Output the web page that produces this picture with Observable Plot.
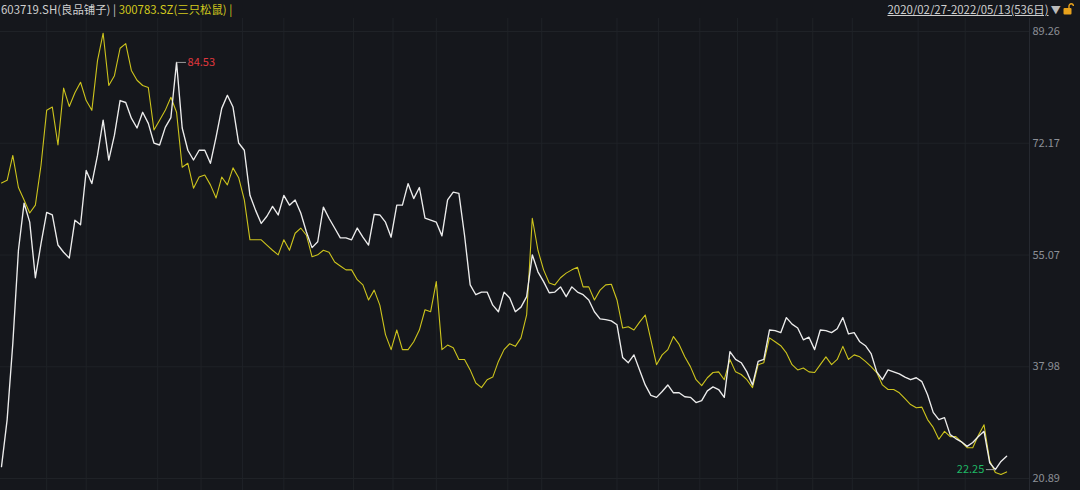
<!DOCTYPE html>
<html>
<head>
<meta charset="utf-8">
<script src="https://cdn.jsdelivr.net/npm/d3@7"></script>
<script src="https://cdn.jsdelivr.net/npm/@observablehq/plot@0.6"></script>
<style>
  body { margin: 0; background: #15171c; width: 1080px; height: 490px; overflow: hidden;
         font-family: "Noto Sans CJK SC", "Noto Sans", sans-serif; }
  #head { height: 18px; position: relative; font-size: 11.4px; line-height: 18px; white-space: nowrap; }
  #head .l { position: absolute; left: 1px; top: 0; }
  #head .r { position: absolute; right: 6px; top: 0; color: #cfcfcf; }
  #head .r u { text-decoration: underline; }
</style>
</head>
<body>
<div id="head">
  <span class="l"><span style="color:#cfcfcf">603719.SH(良品铺子)</span><span style="color:#cfcfcf"> | </span><span style="color:#d2c91c">300783.SZ(三只松鼠) |</span></span>
  <span class="r"><u>2020/02/27-2022/05/13(536日)</u><span style="color:#bbb;font-size:10px"> ▼ </span><svg width="11" height="12" viewBox="0 0 11 12" style="vertical-align:-1px"><path d="M6 5V3a2.2 2.2 0 0 1 4.4 0" fill="none" stroke="#e8a21c" stroke-width="1.4"/><rect x="0.5" y="5" width="8" height="6.5" rx="1" fill="#e8a21c"/></svg></span>
</div>
<div id="chart"></div>
<script>
// one value every 3 trading days, 2020/02/27 - 2022/05/13
const step = 3;
const white = [ // 603719.SH 良品铺子
  22.7, 29.9, 41.5, 55.8, 63.0, 60.1, 51.6, 56.8, 61.6, 61.2,
  56.6, 55.5, 54.6, 60.4, 59.7, 68.0, 66.0, 70.3, 75.7, 69.6,
  73.4, 78.7, 78.4, 76.0, 74.5, 76.9, 75.2, 72.2, 71.9, 74.6,
  76.1, 84.53, 74.5, 71.1, 69.6, 71.1, 71.1, 69.1, 73.1, 77.5,
  79.5, 77.7, 72.2, 71.1, 64.2, 61.9, 59.9, 61.0, 62.5, 61.2,
  64.2, 62.7, 63.5, 61.5, 58.6, 56.2, 57.1, 62.4, 60.7, 59.2,
  57.7, 57.7, 57.4, 59.2, 57.8, 56.6, 61.3, 61.2, 60.1, 57.8,
  62.7, 62.7, 66.0, 63.7, 65.4, 60.7, 60.4, 60.1, 58.0, 63.5,
  64.7, 64.5, 58.1, 50.5, 49.0, 49.4, 49.4, 47.4, 46.4, 49.4,
  48.5, 46.4, 47.1, 48.7, 55.1, 52.5, 51.0, 49.3, 49.4, 50.2,
  48.7, 50.2, 49.4, 49.0, 48.2, 46.4, 45.3, 45.2, 45.0, 44.4,
  39.4, 38.6, 39.8, 37.5, 35.2, 33.6, 33.3, 34.2, 35.2, 34.0,
  34.0, 33.4, 33.3, 32.5, 32.8, 34.3, 34.9, 34.5, 33.3, 40.3,
  39.1, 38.6, 37.2, 35.2, 38.8, 39.1, 43.6, 43.5, 43.2, 45.5,
  44.5, 43.9, 42.1, 42.5, 40.6, 43.6, 43.5, 43.2, 43.8, 45.5,
  43.0, 43.2, 41.8, 41.2, 40.0, 37.2, 36.0, 37.5, 37.2, 36.9,
  36.4, 36.0, 36.3, 35.7, 33.7, 31.0, 29.9, 30.2, 27.6, 27.0,
  26.5, 25.8, 26.4, 27.3, 28.1, 23.3, 22.25, 23.5, 24.3
];
const yellow = [ // 300783.SZ 三只松鼠
  66.1, 66.5, 70.3, 65.4, 63.5, 61.5, 62.7, 68.8, 77.2, 77.7,
  71.9, 80.6, 77.8, 79.9, 81.5, 78.7, 77.2, 84.8, 89.0, 81.0,
  82.5, 86.7, 87.4, 83.3, 81.8, 81.0, 80.7, 74.2, 75.7, 77.2,
  79.2, 76.9, 68.5, 69.1, 65.3, 67.0, 67.3, 65.8, 63.8, 67.0,
  65.8, 68.4, 66.9, 63.5, 57.4, 57.4, 57.4, 56.6, 55.8, 55.1,
  57.4, 55.8, 58.4, 59.2, 58.1, 54.8, 55.1, 55.8, 55.5, 54.0,
  53.4, 52.8, 52.8, 51.3, 50.5, 48.2, 49.7, 47.4, 42.9, 40.6,
  43.6, 40.6, 40.6, 41.8, 43.6, 46.7, 46.4, 51.0, 40.6, 41.3,
  40.9, 39.1, 39.1, 37.5, 35.5, 34.8, 36.0, 36.4, 38.8, 40.6,
  41.5, 41.1, 42.4, 45.9, 60.7, 55.8, 52.8, 50.8, 50.5, 51.6,
  52.3, 52.8, 53.2, 50.2, 50.2, 48.2, 49.7, 50.5, 50.6, 48.2,
  43.9, 44.1, 43.6, 44.8, 45.9, 42.1, 38.3, 39.8, 40.6, 42.6,
  41.4, 39.5, 38.0, 36.0, 35.1, 36.3, 37.1, 37.2, 36.0, 39.1,
  37.2, 36.8, 36.0, 34.8, 38.3, 38.6, 42.4, 41.8, 41.2, 40.1,
  38.3, 37.5, 37.8, 37.2, 37.1, 38.3, 39.5, 38.3, 39.1, 41.1,
  39.1, 39.8, 39.5, 38.8, 38.0, 37.1, 35.2, 34.5, 34.5, 34.0,
  33.1, 32.2, 31.7, 31.8, 29.9, 28.7, 26.9, 28.1, 27.3, 27.3,
  26.5, 25.6, 25.6, 27.5, 29.1, 23.6, 21.8, 21.5, 21.9
];
const yTicks = [89.26, 72.17, 55.07, 37.98, 20.89];
// trading-day index of the vertical grid lines (month starts)
const gridDays = [24, 45, 83, 106, 128, 150, 187, 208, 231, 269, 287, 327, 349, 371, 391, 412, 431, 452, 487, 512];

const rows = white.map((w, i) => ({day: i * step, white: w, yellow: yellow[i]}));
const hi = rows[d3.maxIndex(white)];
const lo = rows[d3.minIndex(white)];

const chart = Plot.plot({
  width: 1080,
  height: 472,
  marginTop: 0,
  marginBottom: 0,
  marginLeft: 0,
  marginRight: 51,
  style: {background: "#15171c", color: "#8c8f96", fontFamily: "'Noto Sans CJK SC', 'Noto Sans', sans-serif", fontSize: "11px"},
  x: {domain: [0, 535], range: [1, 1008], axis: null},
  y: {domain: [20.89, 89.26], range: [460, 13], axis: null},
  marks: [
    Plot.ruleX(gridDays, {stroke: "#1f2227"}),
    Plot.ruleY(yTicks, {stroke: "#1f2227"}),
    Plot.frame({anchor: "right", stroke: "#262930"}),
    Plot.lineY(rows, {x: "day", y: "yellow", stroke: "#cdc41d", strokeWidth: 1.1}),
    Plot.lineY(rows, {x: "day", y: "white", stroke: "#ececec", strokeWidth: 1.35}),
    Plot.link([hi], {x1: "day", x2: d => d.day + 5, y1: "white", y2: "white", stroke: "#9a9a9a"}),
    Plot.text([hi], {x: "day", y: "white", text: d => d.white.toFixed(2), dx: 11, textAnchor: "start", fill: "#e0383e"}),
    Plot.link([lo], {x1: d => d.day - 5, x2: "day", y1: "white", y2: "white", stroke: "#9a9a9a"}),
    Plot.text([lo], {x: "day", y: "white", text: d => d.white.toFixed(2), dx: -11, textAnchor: "end", fill: "#1fb865"}),
    Plot.axisY(yTicks, {anchor: "right", tickSize: 0, tickPadding: 3, tickFormat: d => d.toFixed(2), fill: "#8c8f96"})
  ]
});

d3.select('#chart').append(() => chart);
</script>
</body>
</html>
